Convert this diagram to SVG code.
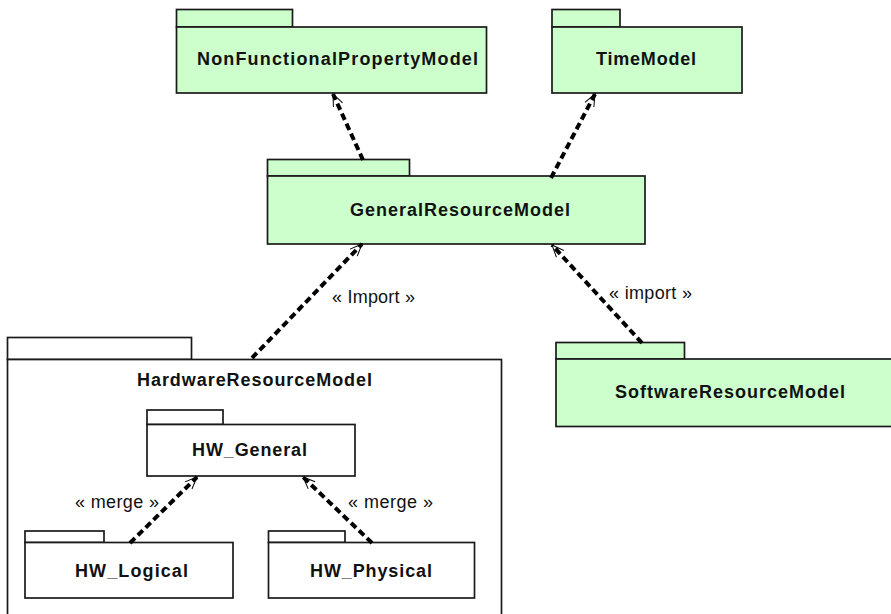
<svg xmlns="http://www.w3.org/2000/svg" width="891" height="614" viewBox="0 0 891 614">
<style>
.g{fill:#CCFFCC;stroke:#1a1a1a;stroke-width:1.7}
.w{fill:#FFFFFF;stroke:#1a1a1a;stroke-width:1.7}
.t{font-family:"Liberation Sans",Arial,sans-serif;font-weight:bold;font-size:18px;fill:#111}
.l{font-family:"Liberation Sans",Arial,sans-serif;font-size:18px;fill:#111}
.c{fill:none;stroke:#000;stroke-width:4;stroke-dasharray:7 4}
</style>
<defs>
<marker id="ah" markerWidth="16" markerHeight="12" refX="13" refY="6" orient="auto" markerUnits="userSpaceOnUse">
<path d="M1,1 L13,6 L1,11" fill="none" stroke="#000" stroke-width="1"/>
</marker>
</defs>
<rect width="891" height="614" fill="#FFFFFF"/>
<g id="HardwareResourceModel">
<rect class="w" x="7.5" y="337.5" width="184" height="22"/>
<rect class="w" x="7.5" y="359.5" width="494" height="270"/>
<text class="t" x="137" y="386" textLength="235" lengthAdjust="spacing">HardwareResourceModel</text>
</g>
<g id="HW_General">
<rect class="w" x="147" y="410" width="76" height="14.5"/>
<rect class="w" x="147" y="424.5" width="208" height="51.5"/>
<text class="t" x="192" y="456" textLength="115" lengthAdjust="spacing">HW_General</text>
</g>
<g id="HW_Logical">
<rect class="w" x="25" y="531" width="79" height="11.5"/>
<rect class="w" x="25" y="542.5" width="208" height="55.5"/>
<text class="t" x="75" y="577" textLength="113" lengthAdjust="spacing">HW_Logical</text>
</g>
<g id="HW_Physical">
<rect class="w" x="268.5" y="531" width="76.5" height="11.5"/>
<rect class="w" x="268.5" y="542.5" width="206" height="55.5"/>
<text class="t" x="310" y="577" textLength="122" lengthAdjust="spacing">HW_Physical</text>
</g>
<g id="NonFunctionalPropertyModel">
<rect class="g" x="176.5" y="9.5" width="116" height="17.5"/>
<rect class="g" x="176.5" y="27" width="310" height="66"/>
<text class="t" x="197" y="65" textLength="281" lengthAdjust="spacing">NonFunctionalPropertyModel</text>
</g>
<g id="TimeModel">
<rect class="g" x="552" y="9.5" width="68" height="17.5"/>
<rect class="g" x="552" y="27" width="190" height="66"/>
<text class="t" x="596" y="65" textLength="100" lengthAdjust="spacing">TimeModel</text>
</g>
<g id="GeneralResourceModel">
<rect class="g" x="267.5" y="159.5" width="142" height="16.5"/>
<rect class="g" x="267.5" y="176" width="377.5" height="68"/>
<text class="t" x="350" y="216" textLength="220" lengthAdjust="spacing">GeneralResourceModel</text>
</g>
<g id="SoftwareResourceModel">
<rect class="g" x="556" y="342.5" width="128.5" height="16.5"/>
<rect class="g" x="556" y="359" width="340" height="67.5"/>
<text class="t" x="615" y="398" textLength="230" lengthAdjust="spacing">SoftwareResourceModel</text>
</g>
<g id="connectors">
<path class="c" d="M363,160 L333,94" marker-end="url(#ah)"/>
<path class="c" d="M551,178 L595,94" marker-end="url(#ah)"/>
<path class="c" d="M252,358 L362,244" marker-end="url(#ah)"/>
<path class="c" d="M642,343 L552,245" marker-end="url(#ah)"/>
<path class="c" d="M130,543 L197,477" marker-end="url(#ah)"/>
<path class="c" d="M372,543 L303,477" marker-end="url(#ah)"/>
<text class="l" x="332" y="303" textLength="83" lengthAdjust="spacing">« Import »</text>
<text class="l" x="609" y="299" textLength="83" lengthAdjust="spacing">« import »</text>
<text class="l" x="75" y="508" textLength="84" lengthAdjust="spacing">« merge »</text>
<text class="l" x="348" y="508" textLength="85" lengthAdjust="spacing">« merge »</text>
</g>
</svg>
